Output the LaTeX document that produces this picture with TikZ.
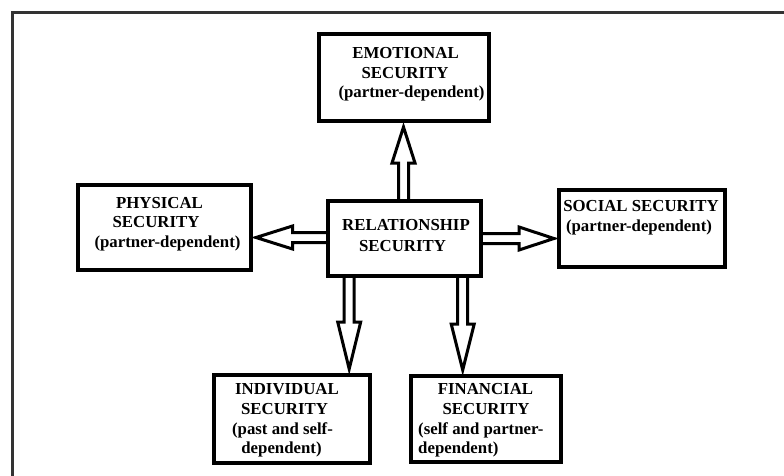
\documentclass[tikz,border=0pt]{standalone}
\usepackage{fontspec}
\setmainfont{Liberation Serif}
\usetikzlibrary{calc}
\begin{document}
\begin{tikzpicture}[x=1pt,y=-1pt,
  box/.style={draw, line width=4pt, rectangle, inner sep=0pt, fill=white},
  txt/.style={anchor=base, inner sep=0pt, font=\fontsize{16.8}{20}\selectfont\bfseries},
  txtl/.style={txt, anchor=base west},
  frameline/.style={draw=black!80, line width=2.4pt},
  arrowline/.style={draw, line width=3pt, line join=miter},
  % hollow block arrow: open shaft from the start, open triangular head at the target
  hollow/.style={arrowline, to path={
    ($(\tikztostart)!5pt!90:(\tikztotarget)$)
    -- ($(\tikztotarget)!#1!(\tikztostart)!5pt!90:(\tikztotarget)$)
    -- ($(\tikztotarget)!#1!(\tikztostart)!11.5pt!90:(\tikztotarget)$)
    -- (\tikztotarget)
    -- ($(\tikztotarget)!#1!(\tikztostart)!11.5pt!-90:(\tikztotarget)$)
    -- ($(\tikztotarget)!#1!(\tikztostart)!5pt!-90:(\tikztotarget)$)
    -- ($(\tikztostart)!5pt!-90:(\tikztotarget)$)
  }}
]
\useasboundingbox (0,0) rectangle (784,476);
\fill[white] (0,0) rectangle (784,476);

% outer frame (only its top and left sides fall inside the page)
\draw[frameline] (12.5,480) -- (12.5,12.5) -- (790,12.5);

% boxes
\node[box, minimum width=170pt, minimum height=87pt] (emo) at (404,77.5) {};
\node[box, minimum width=173pt, minimum height=85pt] (phy) at (164.5,227.5) {};
\node[box, minimum width=153pt, minimum height=75pt] (rel) at (404.5,238.5) {};
\node[box, minimum width=166pt, minimum height=77pt] (soc) at (642,228.5) {};
\node[box, minimum width=156pt, minimum height=88pt] (ind) at (292,419) {};
\node[box, minimum width=150pt, minimum height=86pt] (fin) at (486,419) {};

% labels
\node[txt] (emo1) at (405.5,59) {EMOTIONAL};
\node[txt] (emo2) at (405,79) {SECURITY};
\node[txt] (emo3) at (411.5,97.5) {(partner-dependent)};

\node[txt] (phy1) at (159.5,208) {PHYSICAL};
\node[txt] (phy2) at (156,227.5) {SECURITY};
\node[txt] (phy3) at (167.5,247) {(partner-dependent)};

\node[txt] (rel1) at (406,230) {RELATIONSHIP};
\node[txt] (rel2) at (402.5,251) {SECURITY};

\node[txt] (soc1) at (641,211.5) {SOCIAL SECURITY};
\node[txt] (soc2) at (639,231) {(partner-dependent)};

\node[txt] (ind1) at (287,394) {INDIVIDUAL};
\node[txt] (ind2) at (284.5,414) {SECURITY};
\node[txt] (ind3) at (282.5,434) {(past and self-};
\node[txt] (ind4) at (281.5,453) {dependent)};

\node[txt] (fin1) at (485.5,394) {FINANCIAL};
\node[txt] (fin2) at (486,414) {SECURITY};
\node[txtl] (fin3) at (418,434) {(self and partner-};
\node[txtl] (fin4) at (418,453) {dependent)};

% arrow ends on the box borders
\coordinate (upS) at ([xshift=-1pt]rel.north);
\coordinate (upT) at ([xshift=-0.5pt,yshift=-4pt]emo.south);
\coordinate (lfS) at ([yshift=1pt]rel.west);
\coordinate (lfT) at ([xshift=3pt,yshift=-10pt]phy.east);
\coordinate (rtS) at (rel.east);
\coordinate (rtT) at ([xshift=-3pt,yshift=-10pt]soc.west);
\coordinate (d1S) at ([xshift=-55.3pt]rel.south);
\coordinate (d1T) at ([xshift=57.2pt,yshift=4pt]ind.north);
\coordinate (d2S) at ([xshift=58.2pt]rel.south);
\coordinate (d2T) at ([xshift=-23.3pt,yshift=4pt]fin.north);

% connectors
\draw[hollow=36pt] (upS) to (upT);
\draw[hollow=36.5pt] (lfS) to (lfT);
\draw[hollow=35pt] (rtS) to (rtT);
\draw[hollow=47pt] (d1S) to (d1T);
\draw[hollow=46pt] (d2S) to (d2T);
\end{tikzpicture}
\end{document}
